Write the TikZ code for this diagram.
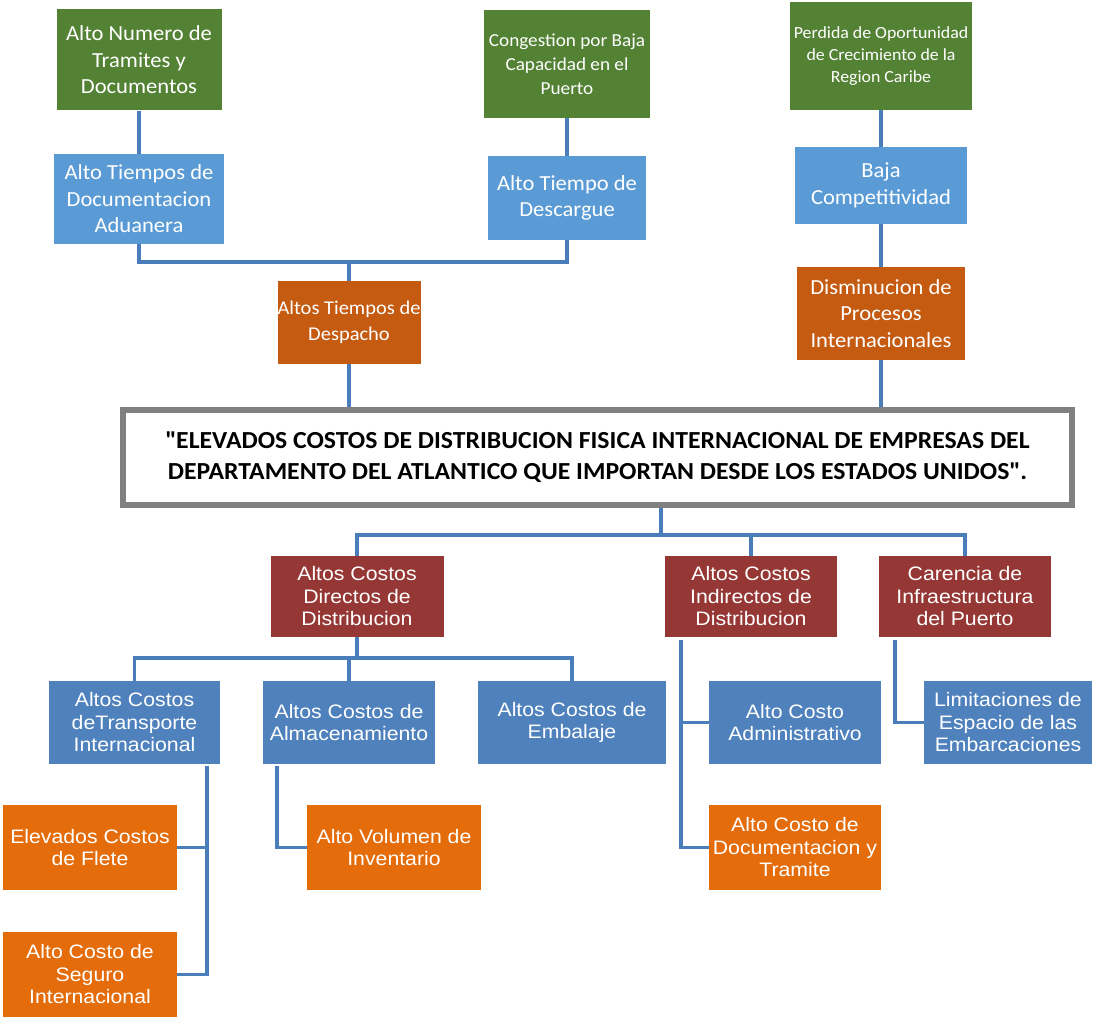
\documentclass[tikz,border=0pt]{standalone}
\usepackage{fontspec}
\setmainfont[FakeStretch=1.05]{Carlito}
\newfontfamily\arialfont[FakeStretch=1.09]{Liberation Sans}
\definecolor{verde}{HTML}{548235}
\definecolor{celeste}{HTML}{5B9BD5}
\definecolor{ladrillo}{HTML}{C55A11}
\definecolor{vino}{HTML}{953735}
\definecolor{azul}{HTML}{4F81BD}
\definecolor{naranja}{HTML}{E46C0A}
\definecolor{linea}{HTML}{4A7EBB}

\begin{document}
\begin{tikzpicture}[x=1pt,y=-1pt,
	caja/.style={inner sep=0pt,align=center,text=white,font={\fontsize{21.5}{26.5}\selectfont}},
	cajab/.style={inner sep=0pt,align=center,text=white,font={\arialfont\fontsize{19.5}{22.5}\selectfont}},
	conector/.style={draw=linea,line width=3.5pt}]

		\useasboundingbox (0,0) rectangle (1094,1019);

		\node (G1) at (139,60) [caja,fill=verde,minimum width=165pt,minimum height=101pt] {Alto Numero de\\Tramites y\\Documentos};
		\node (B1) at (139,199) [caja,fill=celeste,minimum width=170pt,minimum height=90pt] {Alto Tiempos de\\Documentacion\\Aduanera};
		\node (G2) at (567,64) [caja,fill=verde,minimum width=166pt,minimum height=108pt,font={\fontsize{18.3}{24}\selectfont}] {Congestion por Baja\\Capacidad en el\\Puerto};
		\node (B2) at (567,198) [caja,fill=celeste,minimum width=158pt,minimum height=84pt] {Alto Tiempo de\\Descargue};
		\node (G3) at (881,56) [caja,fill=verde,minimum width=182pt,minimum height=108pt,font={\fontsize{17}{22}\selectfont}] {Perdida de Oportunidad\\de Crecimiento de la\\Region Caribe};
		\node (B3) at (881,185.5) [caja,fill=celeste,minimum width=172pt,minimum height=77pt] {Baja\\Competitividad};
		\node (O3) at (881,313.5) [caja,fill=ladrillo,minimum width=168pt,minimum height=93pt] {Disminucion de\\Procesos\\Internacionales};
		\node (O1) at (349,322.5) [caja,fill=ladrillo,minimum width=143pt,minimum height=83pt,font={\fontsize{19.5}{26.5}\selectfont}] {Altos Tiempos de\\Despacho};

		\node (P) at (597.5,457.5) [draw=gray,line width=6pt,inner sep=0pt,minimum width=949pt,minimum height=95pt,align=center,
		font={\bfseries\fontsize{24.5}{31}\selectfont}] {\textquotedbl ELEVADOS COSTOS DE DISTRIBUCION FISICA INTERNACIONAL DE EMPRESAS DEL\\DEPARTAMENTO DEL ATLANTICO QUE IMPORTAN DESDE LOS ESTADOS UNIDOS\textquotedbl.};

		\node (R1) at (357,596.5) [cajab,fill=vino,minimum width=173pt,minimum height=81pt] {Altos Costos\\Directos de\\Distribucion};
		\node (R2) at (751,596.5) [cajab,fill=vino,minimum width=172pt,minimum height=81pt] {Altos Costos\\Indirectos de\\Distribucion};
		\node (R3) at (965,596.5) [cajab,fill=vino,minimum width=172pt,minimum height=81pt] {Carencia de\\Infraestructura\\del Puerto};

		\node (L1) at (134.5,722.5) [cajab,fill=azul,minimum width=171pt,minimum height=83pt] {Altos Costos\\deTransporte\\Internacional};
		\node (L2) at (349,722.5) [cajab,fill=azul,minimum width=172pt,minimum height=83pt] {Altos Costos de\\Almacenamiento};
		\node (L3) at (572,722.5) [cajab,fill=azul,minimum width=188pt,minimum height=83pt] {Altos Costos de\\Embalaje};
		\node (A1) at (795,722.5) [cajab,fill=azul,minimum width=172pt,minimum height=83pt] {Alto Costo\\Administrativo};
		\node (Lim) at (1008,722.5) [cajab,fill=azul,minimum width=168pt,minimum height=83pt] {Limitaciones de\\Espacio de las\\Embarcaciones};

		\node (E1) at (90,847.5) [cajab,fill=naranja,minimum width=174pt,minimum height=85pt] {Elevados Costos\\de Flete};
		\node (E2) at (90,974.5) [cajab,fill=naranja,minimum width=174pt,minimum height=85pt] {Alto Costo de\\Seguro\\Internacional};
		\node (F1) at (394,847.5) [cajab,fill=naranja,minimum width=174pt,minimum height=85pt] {Alto Volumen de\\Inventario};
		\node (A2) at (795,847.5) [cajab,fill=naranja,minimum width=172pt,minimum height=85pt] {Alto Costo de\\Documentacion y\\Tramite};

		\draw [conector] (G1) -- (B1);
		\draw [conector] (G2) -- (B2);
		\draw [conector] (G3) -- (B3);
		\draw [conector] (B3) -- (O3);
		\coordinate (j1) at (349,262);
		\draw [conector] (B1.south) |- (j1) -| (B2.south);
		\draw [conector] (j1) -- (O1);
		\draw [conector] (O1) -- (O1 |- P.north);
		\draw [conector] (O3) -- (O3 |- P.north);

		\coordinate (j2) at (661,535);
		\draw [conector] (P.south -| j2) -- (j2);
		\draw [conector] (R1.north) |- (j2) -| (R3.north);
		\draw [conector] (R2.north) -- (R2.north |- j2);

		\coordinate (j3) at (357,658);
		\draw [conector] (R1) -- (j3);
		\draw [conector] (L1.north) |- (j3) -| (L3.north);
		\draw [conector] (L2.north) -- (L2.north |- j3);

		\coordinate (k1) at (207,766);
		\draw [conector] (k1) |- (E2.east);
		\draw [conector] (E1.east) -- (E1.east -| k1);
		\coordinate (k2) at (277,766);
		\draw [conector] (k2) |- (F1.west);
		\coordinate (k3) at (681,640);
		\draw [conector] (k3) |- (A2.west);
		\draw [conector] (A1.west) -- (A1.west -| k3);
		\coordinate (k4) at (895,640);
		\draw [conector] (k4) |- (Lim.west);

\end{tikzpicture}
\end{document}
